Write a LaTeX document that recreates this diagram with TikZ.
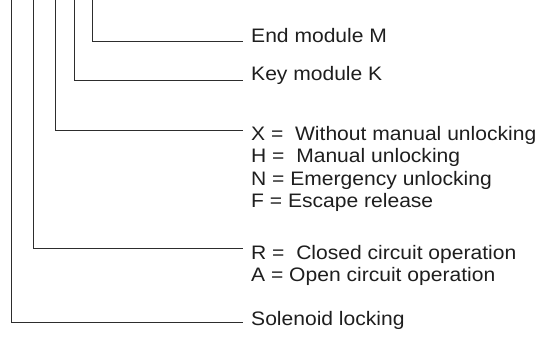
\documentclass[tikz,border=0pt]{standalone}
\usepackage{fontspec}
\setmainfont[FakeStretch=1.08]{Liberation Sans}
\usepackage{tikz}
\usetikzlibrary{positioning,calc}
\definecolor{leader}{RGB}{45,45,45}
\definecolor{codeink}{RGB}{30,30,30}
\tikzset{
  font=\fontsize{19.5bp}{22.5bp}\selectfont,
  codetext/.style={anchor=base west, inner sep=0pt, text=codeink},
  leaderline/.style={draw=leader, line width=0.9bp},
}

\begin{document}
\begin{tikzpicture}[x=1bp, y=-1bp]
\useasboundingbox (0,0) rectangle (540,336);

% ---------- leader lines (one per code position) ----------
\foreach \x/\ly/\n in {11/322/sol, 33/248/op, 55/130/unl, 74/80.5/key, 92/41/end}{
  \coordinate (top\n) at (\x,0);
  \coordinate (tip\n) at (243,\ly);
  \draw[leaderline] (top\n) |- (tip\n);}

% ---------- code texts ----------
\node[codetext] (Tend) at (251,42.5) {End module M};
\node[codetext] (Tkey) at (251,80.5) {Key module K};

\node[codetext] (TunlX) at (251,140)   {X = \ Without manual unlocking};
\node[codetext] (TunlH) at (251,162.5) {H = \ Manual unlocking};
\node[codetext] (TunlN) at (251,185)   {N = Emergency unlocking};
\node[codetext] (TunlF) at (251,207.5) {F = Escape release};

\node[codetext] (TopR) at (251,259)   {R = \ Closed circuit operation};
\node[codetext] (TopA) at (251,281.5) {A = Open circuit operation};

\node[codetext] (Tsol) at (251,325) {Solenoid locking};

\end{tikzpicture}
\end{document}
